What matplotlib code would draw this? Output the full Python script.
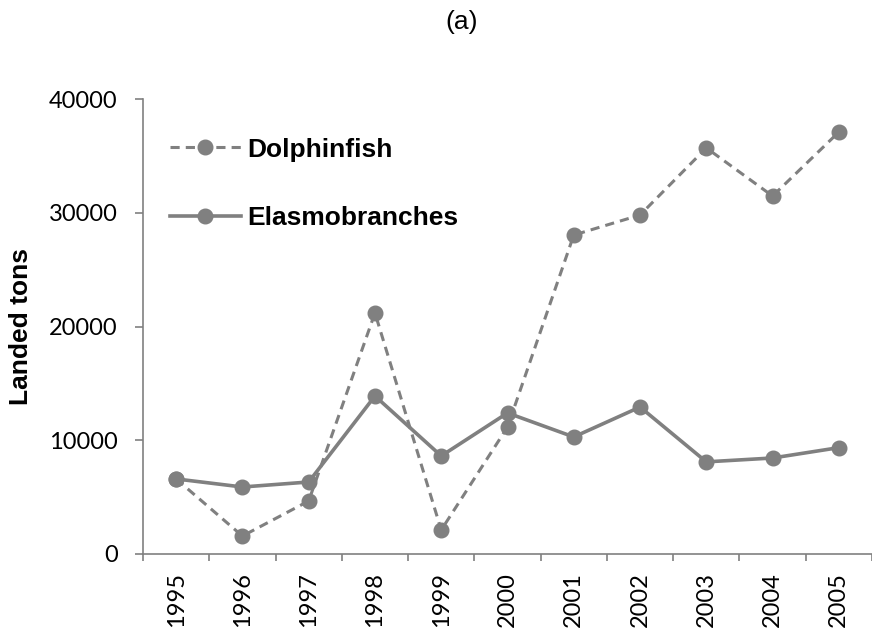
import matplotlib
matplotlib.use("Agg")
import matplotlib.pyplot as plt

years = ["1995", "1996", "1997", "1998", "1999", "2000", "2001", "2002", "2003", "2004", "2005"]
dolphinfish = [6600, 1580, 4660, 21190, 2110, 11160, 28040, 29800, 35700, 31470, 37100]
elasmobranches = [6600, 5890, 6330, 13890, 8620, 12400, 10290, 12920, 8100, 8440, 9350]
yticks = [0, 10000, 20000, 30000, 40000]

plt.rcParams['font.family'] = ['Liberation Sans', 'DejaVu Sans']
fig = plt.figure(figsize=(8.72, 6.3), dpi=100)
W, H = 872, 630
ax = fig.add_axes([143 / W, 1 - 554 / H, (872 - 143) / W, (554 - 99) / H])

gray = "#808080"
x = list(range(len(years)))
ax.plot(x, dolphinfish, linestyle=(0, (3, 2)), color=gray, lw=2.2, marker='o',
        markersize=10.5, label="Dolphinfish", clip_on=False)
ax.plot(x, elasmobranches, linestyle='-', color=gray, lw=2.6, marker='o',
        markersize=10.5, label="Elasmobranches", clip_on=False)

tickfont = {'family': ['Lato', 'DejaVu Sans'], 'size': 17}
ax.set_ylim(0, 40000)
ax.set_yticks(yticks)
ax.set_yticklabels([str(v) for v in yticks], fontdict=tickfont)
ax.set_xlim(-0.5, 10.5 - 8 / 67)
ax.set_xticks(x)
ax.set_xticklabels(years, rotation=90, fontdict=tickfont)
ax.set_xticks([i - 0.5 for i in range(len(years) + 1)], minor=True)
ax.tick_params(axis='x', which='major', length=0, pad=13)
ax.tick_params(axis='x', which='minor', length=5, color=gray, width=1.2)
ax.tick_params(axis='y', length=5.8, color=gray, width=1.2, pad=12.5)

for s in ['top', 'right']:
    ax.spines[s].set_visible(False)
for s in ['left', 'bottom']:
    ax.spines[s].set_color(gray)
    ax.spines[s].set_linewidth(1.2)

ax.set_ylabel("Landed tons", fontsize=19, fontweight='bold')
ax.yaxis.set_label_coords(-(143 - 33) / 729, 0.5)
fig.text(462 / W, 1 - 22 / H, "(a)", ha='center', va='center', fontsize=19)

leg = ax.legend(loc='upper left', bbox_to_anchor=(0.015, 0.95), frameon=False,
                prop={'weight': 'bold', 'size': 19}, handlelength=2.7,
                labelspacing=1.7, handletextpad=0.25, borderaxespad=0.2)

fig.savefig("out.png", dpi=100)
